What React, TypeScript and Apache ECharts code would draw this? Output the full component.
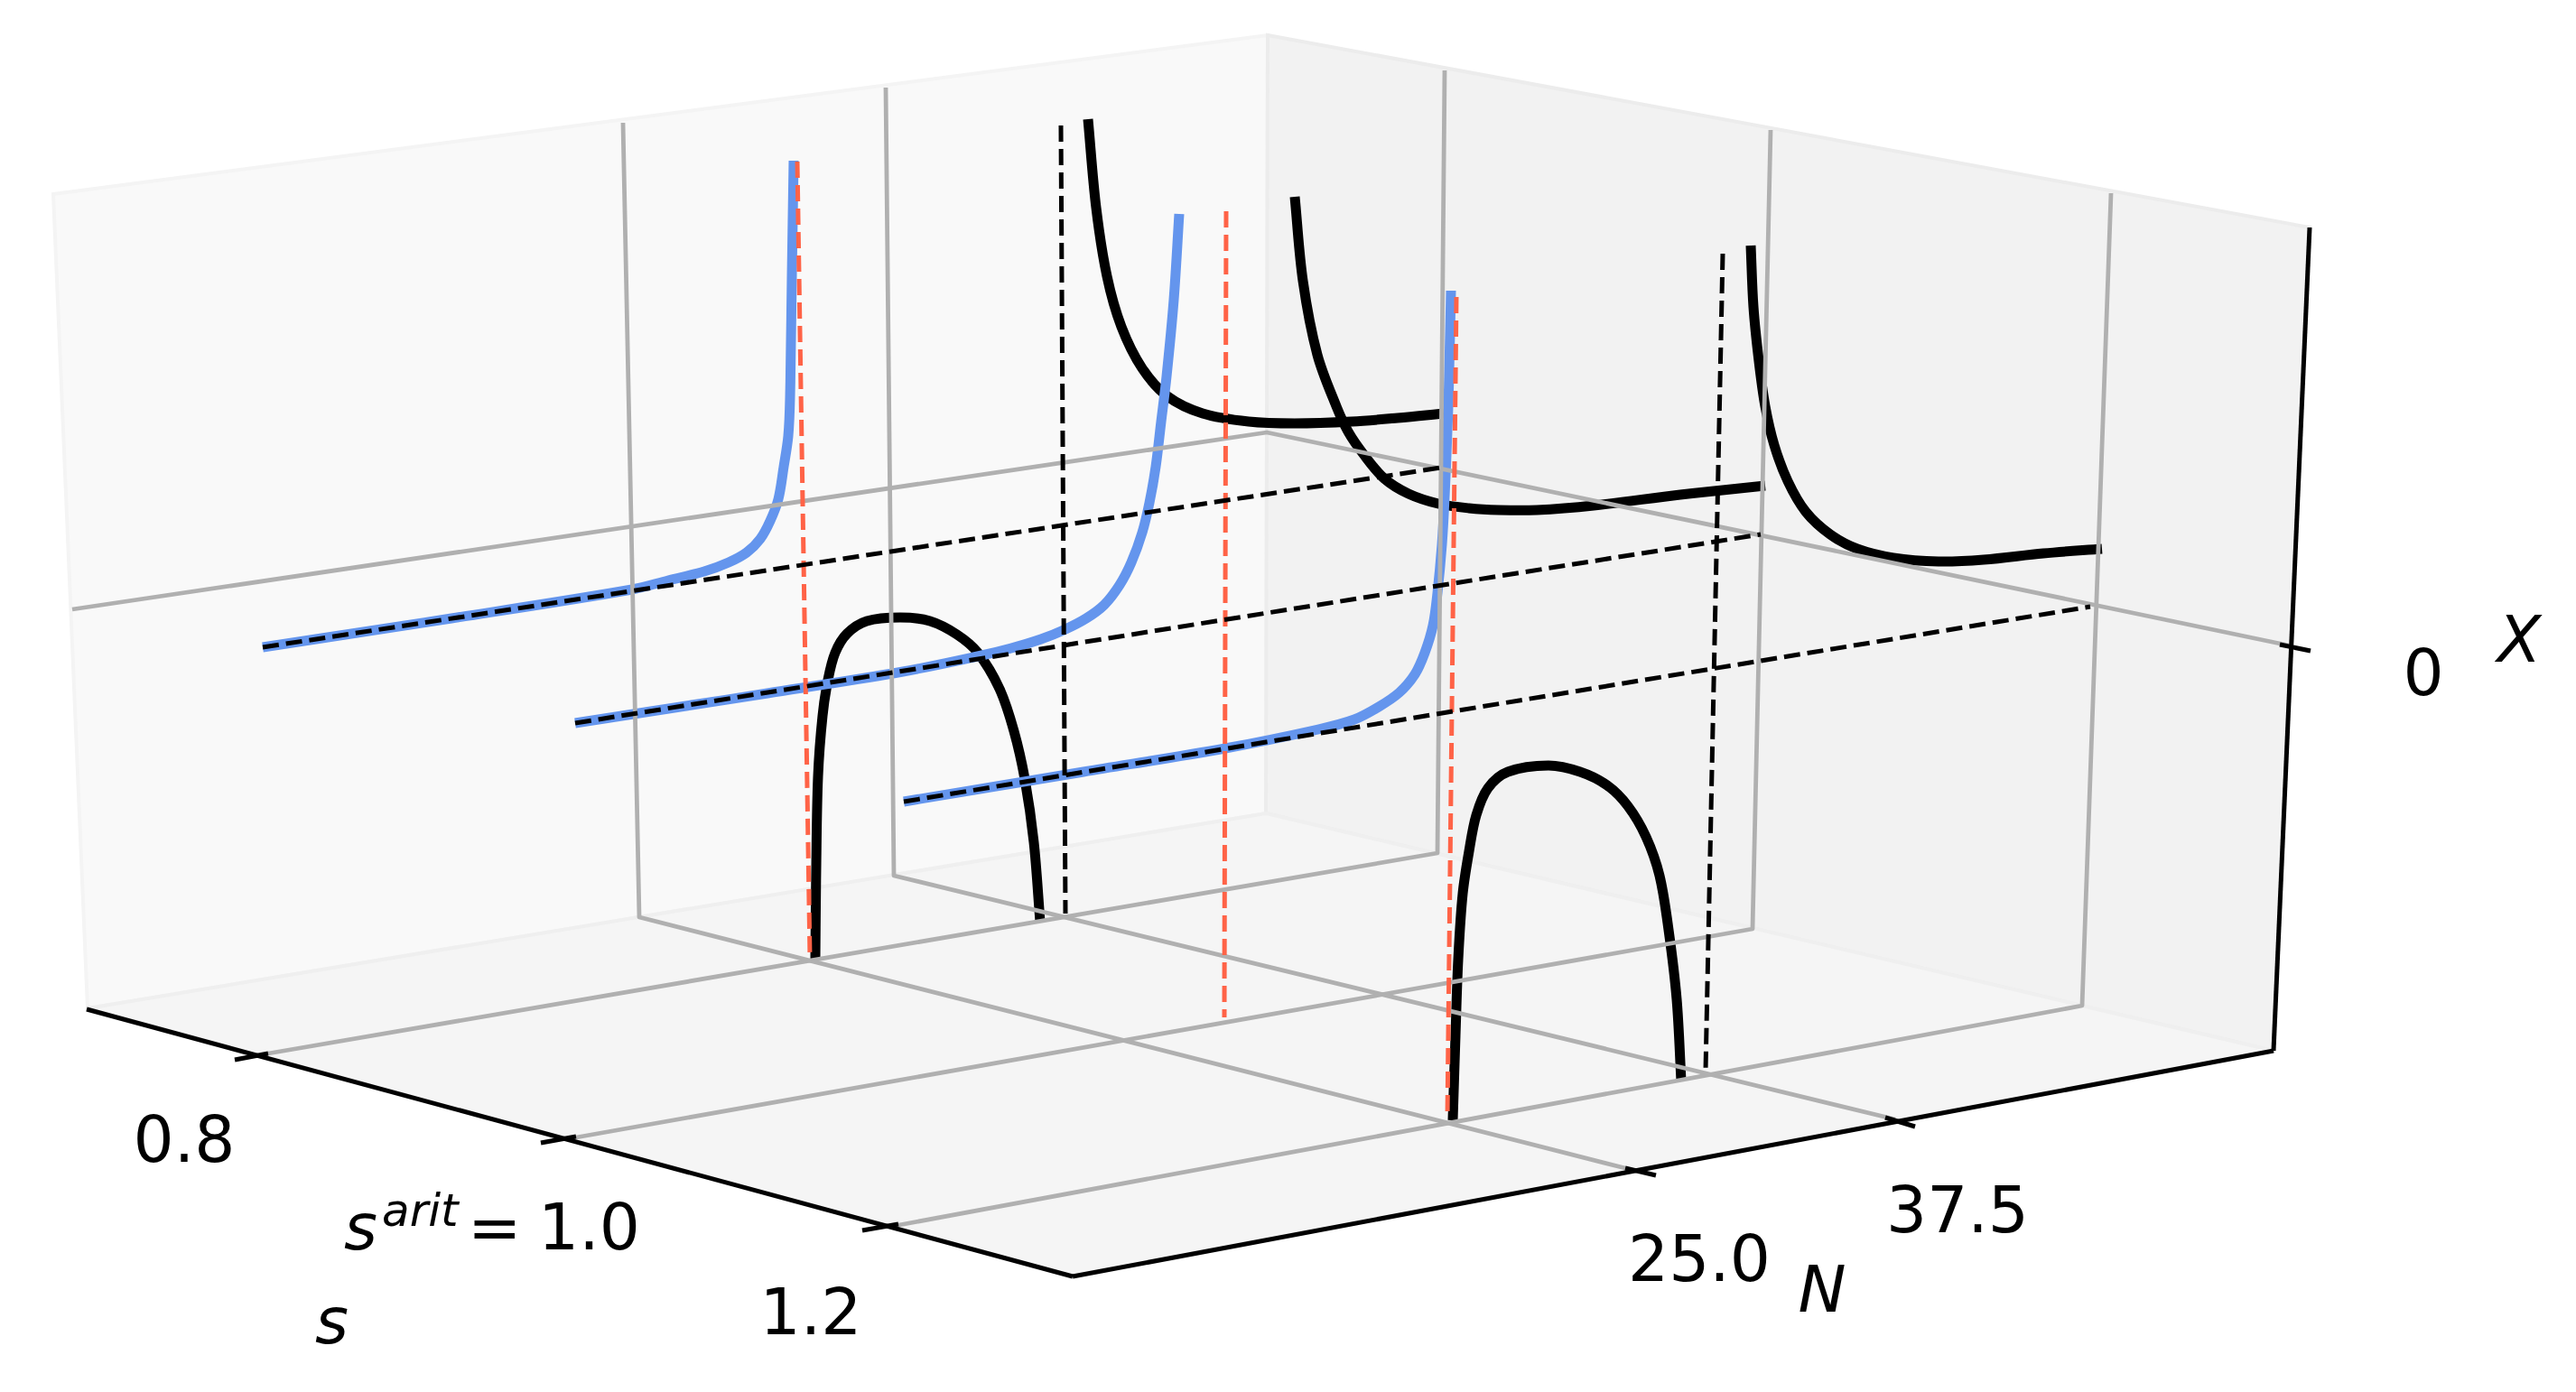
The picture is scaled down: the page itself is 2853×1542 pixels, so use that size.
import React, { useEffect, useRef } from "react";
import * as echarts from "echarts";

type P = number[];
const leftWall: P[] = [[59,215],[1404,39],[1402,901],[97,1117]];
const rightWall: P[] = [[1404,39],[2558,252],[2518,1164],[1402,901]];
const floorPane: P[] = [[97,1117],[1188,1414],[2518,1164],[1402,901]];

const gridS08: P[] = [[297,1167],[1592,945],[1600,78]];
const gridS10: P[] = [[638,1260],[1941,1029],[1961,144]];
const gridS12: P[] = [[985,1359],[2306,1114],[2338,214]];
const gridN25: P[] = [[1800,1294],[708,1016],[690,136]];
const gridN375: P[] = [[2099,1240],[990,970],[981,97]];
const gridX0: P[] = [[80,675],[1403,479],[2535,715]];

const axisS: P[] = [[96,1118],[1188,1414]];
const axisN: P[] = [[1188,1414],[2518,1164]];
const axisX: P[] = [[2518,1164],[2558,252]];
const tickS08: P[] = [[260,1174],[297,1167]];
const tickS10: P[] = [[599,1266],[638,1259]];
const tickS12: P[] = [[955,1363],[995,1356]];
const tickN25: P[] = [[1800,1294],[1834,1302]];
const tickN375: P[] = [[2088,1238],[2121,1248]];
const tickX0: P[] = [[2525,714],[2559,721]];

const red1: P[] = [[883,179],[897,1061]];
const red2: P[] = [[1358,234],[1356,1127]];
const red3: P[] = [[1613,329],[1603,1239]];
const dashV1: P[] = [[1175,139],[1180,1012]];
const dashV2: P[] = [[1908,281],[1889,1186]];
const dashA: P[] = [[291,717],[1596,518]];
const dashB: P[] = [[637,801],[1950,592]];
const dashC: P[] = [[1001,888],[2315,672]];

const upper1: P[] = [[1205,132],[1214,230],[1226,306],[1242,362],[1265,408],[1293,439],[1332,458],[1383,467],[1434,469],[1497,467],[1548,463],[1599,458]];
const upper2: P[] = [[1434,218],[1443,311],[1459,393],[1480,450],[1493,478],[1510,503],[1533,530],[1560,547],[1593,558],[1627,563],[1660,565],[1702,565],[1765,560],[1861,548],[1955,538]];
const upper3: P[] = [[1939,272],[1942,340],[1948,400],[1955,450],[1965,493],[1980,533],[2000,567],[2027,592],[2057,608],[2097,618],[2147,622],[2197,620],[2263,613],[2328,608]];
const arch1: P[] = [[903,1062],[904,960],[906,860],[911,793],[917,753],[925,723],[938,702],[960,688],[997,684],[1030,688],[1060,703],[1083,723],[1107,763],[1123,810],[1135,863],[1145,933],[1152,1021]];
const arch2: P[] = [[1609,1241],[1612,1147],[1615,1063],[1620,990],[1627,943],[1635,903],[1648,873],[1670,855],[1715,848],[1750,855],[1780,870],[1803,893],[1823,927],[1838,970],[1848,1030],[1857,1107],[1862,1197]];
const blueA: P[] = [[291,717],[500,685],[700,653],[740,643],[780,633],[807,623],[827,612],[842,597],[853,577],[862,553],[868,517],[873,483],[875,440],[877,306],[879,178]];
const blueB: P[] = [[637,801],[850,768],[1000,744],[1083,727],[1120,718],[1153,708],[1178,698],[1203,685],[1223,670],[1240,648],[1253,623],[1265,590],[1273,557],[1280,517],[1286,467],[1292,417],[1300,332],[1306,237]];
const blueC: P[] = [[1001,888],[1200,855],[1357,829],[1460,808],[1500,797],[1527,783],[1550,767],[1567,747],[1578,723],[1587,693],[1592,657],[1597,603],[1600,550],[1604,450],[1607,322]];

const sTickLabels = ["0.8", "1.2"];
const nTickLabels = ["25.0", "37.5"];
const xTickLabels = ["0"];

const FONT = "DejaVu Sans";
const GREY = "#b0b0b0";
const BLACK = "#000000";
const RED = "#ff6347";
const BLUE = "#6495ed";

const pane = (name: string, pts: P[], fill: string, edge: string) => ({
  type: "custom",
  name,
  coordinateSystem: "cartesian2d",
  silent: true,
  data: [0],
  renderItem: (_: any, api: any) => ({
    type: "polygon",
    shape: { points: pts.map((p) => api.coord(p)) },
    style: { fill, stroke: edge, lineWidth: 4 },
  }),
});

const line = (name: string, data: P[], color: string, width: number, extra: any = {}) => ({
  type: "line",
  name,
  data,
  showSymbol: false,
  symbol: "none",
  silent: true,
  clip: false,
  lineStyle: { color, width, cap: "butt", join: "round", ...extra },
});
const dash = (name: string, data: P[], color: string, width: number) =>
  line(name, data, color, width, { type: [18, 8] });

// one smooth path through the read points: tangents from the neighbouring points, handles a third of each chord
const smoothPath = (pts: number[][]) => {
  const tangent = (i: number) => {
    const a = pts[Math.max(i - 1, 0)];
    const b = pts[Math.min(i + 1, pts.length - 1)];
    const dx = b[0] - a[0];
    const dy = b[1] - a[1];
    const len = Math.hypot(dx, dy) || 1;
    return [dx / len, dy / len];
  };
  let d = `M${pts[0][0]} ${pts[0][1]}`;
  for (let i = 0; i < pts.length - 1; i++) {
    const p = pts[i];
    const q = pts[i + 1];
    const h = Math.hypot(q[0] - p[0], q[1] - p[1]) / 3;
    const t0 = tangent(i);
    const t1 = tangent(i + 1);
    d += `C${p[0] + t0[0] * h} ${p[1] + t0[1] * h} ${q[0] - t1[0] * h} ${q[1] - t1[1] * h} ${q[0]} ${q[1]}`;
  }
  return d;
};

const curve = (name: string, data: P[], color: string, width: number) => ({
  type: "custom",
  name,
  coordinateSystem: "cartesian2d",
  silent: true,
  clip: false,
  data: [0],
  renderItem: (_: any, api: any) => ({
    type: "path",
    shape: { pathData: smoothPath(data.map((p) => api.coord(p))) },
    style: { fill: "none", stroke: color, lineWidth: width, lineCap: "butt", lineJoin: "round" },
  }),
});

const label = (text: string, x: number, baseline: number, size: number, italic = false, align = "left") => ({
  type: "text",
  x,
  y: baseline - 0.87 * size,
  silent: true,
  style: {
    text,
    fill: "#000",
    fontFamily: FONT,
    fontSize: size,
    fontStyle: italic ? "italic" : "normal",
    textAlign: align,
  },
});

export default function App() {
  const ref = useRef<HTMLDivElement>(null);
  useEffect(() => {
    const chart = echarts.init(ref.current!, null, { renderer: "svg" });
    chart.setOption({
      animation: false,
      backgroundColor: "#ffffff",
      grid: { left: 0, right: 0, top: 0, bottom: 0 },
      xAxis: { type: "value", min: 0, max: 2853, show: false },
      yAxis: { type: "value", min: 0, max: 1542, inverse: true, show: false },
      series: [
        pane("left wall", leftWall, "#f9f9f9", "#f4f4f4"),
        pane("right wall", rightWall, "#f2f2f2", "#ececec"),
        pane("floor", floorPane, "#f5f5f5", "#efefef"),
        line("grid s 0.8", gridS08, GREY, 4.8),
        line("grid s 1.0", gridS10, GREY, 4.8),
        line("grid s 1.2", gridS12, GREY, 4.8),
        line("grid N 25", gridN25, GREY, 4.8),
        line("grid N 37.5", gridN375, GREY, 4.8),
        line("grid X 0", gridX0, GREY, 4.8),
        line("axis s", axisS, BLACK, 5),
        line("axis N", axisN, BLACK, 5),
        line("axis X", axisX, BLACK, 5),
        line("tick s 0.8", tickS08, BLACK, 5),
        line("tick s 1.0", tickS10, BLACK, 5),
        line("tick s 1.2", tickS12, BLACK, 5),
        line("tick N 25", tickN25, BLACK, 5),
        line("tick N 37.5", tickN375, BLACK, 5),
        line("tick X 0", tickX0, BLACK, 5),
        dash("pole 1", red1, RED, 5),
        dash("pole 2", red2, RED, 5),
        dash("pole 3", red3, RED, 5),
        dash("vertical 1", dashV1, BLACK, 5),
        dash("vertical 2", dashV2, BLACK, 5),
        curve("upper 1", upper1, BLACK, 11),
        curve("upper 2", upper2, BLACK, 11),
        curve("upper 3", upper3, BLACK, 11),
        curve("arch 1", arch1, BLACK, 11),
        curve("arch 2", arch2, BLACK, 11),
        curve("blue 1", blueA, BLUE, 11),
        curve("blue 2", blueB, BLUE, 11),
        curve("blue 3", blueC, BLUE, 11),
        dash("baseline 1", dashA, BLACK, 5),
        dash("baseline 2", dashB, BLACK, 5),
        dash("baseline 3", dashC, BLACK, 5),
      ],
      graphic: {
        elements: [
          label(sTickLabels[0], 204, 1289, 71, false, "center"),
          label(sTickLabels[1], 898, 1480, 71, false, "center"),
          label(nTickLabels[0], 1882, 1421, 71, false, "center"),
          label(nTickLabels[1], 2168, 1367, 71, false, "center"),
          label(xTickLabels[0], 2684, 772, 71, false, "center"),
          label("s", 381, 1386, 71, true),
          label("arit", 423, 1359, 50, true),
          label("=", 518, 1386, 71),
          label("1.0", 596, 1386, 71),
          label("s", 349, 1490, 71, true),
          label("N", 2018, 1455, 71, true, "center"),
          label("X", 2790, 735, 71, true, "center"),
        ],
      },
    });
    return () => chart.dispose();
  }, []);
  return <div ref={ref} style={{ position: "absolute", left: 0, top: 0, width: 2853, height: 1542 }} />;
}
